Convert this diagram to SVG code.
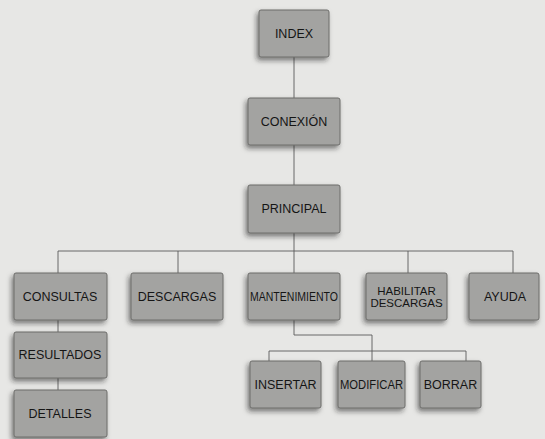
<svg xmlns="http://www.w3.org/2000/svg" width="545" height="439" viewBox="0 0 545 439">
<defs>
<filter id="sh" x="-20%" y="-20%" width="140%" height="150%">
<feDropShadow dx="-2" dy="3" stdDeviation="2.5" flood-color="#222" flood-opacity="0.55"/>
</filter>
<style>
.box{fill:#a3a3a1;stroke:#6d6d6b;stroke-width:1;filter:url(#sh)}
.t{font-family:"Liberation Sans",Arial,sans-serif;font-size:12.5px;fill:#151515;text-anchor:middle;dominant-baseline:central}
.s{font-size:11.5px}
.ln{fill:none;stroke:#5a5a5a;stroke-width:0.9}
</style>
</defs>
<rect width="545" height="439" fill="#e7e7e5"/>
<g id="connectors">
<path class="ln" d="M294 57V98M294 145V185M294 233V251M58 251H513M58 251V273M178 251V273M294 251V273M408 251V273M513 251V273"/>
<path class="ln" d="M58 320V332M58 378V390"/>
<path class="ln" d="M294 320V335H372V361M269 351H466M269 351V361M466 351V361"/>
</g>
<g id="index"><rect class="box" x="259" y="10" width="70" height="47" rx="2"/><text class="t" x="294" y="33.5">INDEX</text></g>
<g id="conexion"><rect class="box" x="248" y="98" width="92" height="47" rx="2"/><text class="t" x="294" y="121.5">CONEXIÓN</text></g>
<g id="principal"><rect class="box" x="248" y="185" width="92" height="48" rx="2"/><text class="t" x="294" y="209">PRINCIPAL</text></g>
<g id="consultas"><rect class="box" x="14" y="273" width="93" height="47" rx="2"/><text class="t" x="60" y="296.5">CONSULTAS</text></g>
<g id="descargas"><rect class="box" x="131" y="273" width="92" height="47" rx="2"/><text class="t" x="177" y="296.5">DESCARGAS</text></g>
<g id="mantenimiento"><rect class="box" x="248" y="273" width="92" height="47" rx="2"/><text class="t" x="294" y="296.5" textLength="88" lengthAdjust="spacingAndGlyphs">MANTENIMIENTO</text></g>
<g id="habilitar"><rect class="box" x="366" y="273" width="81" height="47" rx="2"/><text class="t s" x="406.5" y="290.5">HABILITAR</text><text class="t s" x="406.5" y="303">DESCARGAS</text></g>
<g id="ayuda"><rect class="box" x="469" y="273" width="70" height="47" rx="2"/><text class="t" x="505" y="296.5">AYUDA</text></g>
<g id="resultados"><rect class="box" x="14" y="332" width="93" height="46" rx="2"/><text class="t" x="60" y="355">RESULTADOS</text></g>
<g id="detalles"><rect class="box" x="14" y="390" width="93" height="47" rx="2"/><text class="t" x="60" y="413.5">DETALLES</text></g>
<g id="insertar"><rect class="box" x="250" y="361" width="71" height="47" rx="2"/><text class="t" x="285.5" y="384.5">INSERTAR</text></g>
<g id="modificar"><rect class="box" x="338" y="361" width="67" height="47" rx="2"/><text class="t" x="371.5" y="384.5" textLength="63" lengthAdjust="spacingAndGlyphs">MODIFICAR</text></g>
<g id="borrar"><rect class="box" x="420" y="361" width="61" height="47" rx="2"/><text class="t" x="450.5" y="384.5">BORRAR</text></g>
</svg>
